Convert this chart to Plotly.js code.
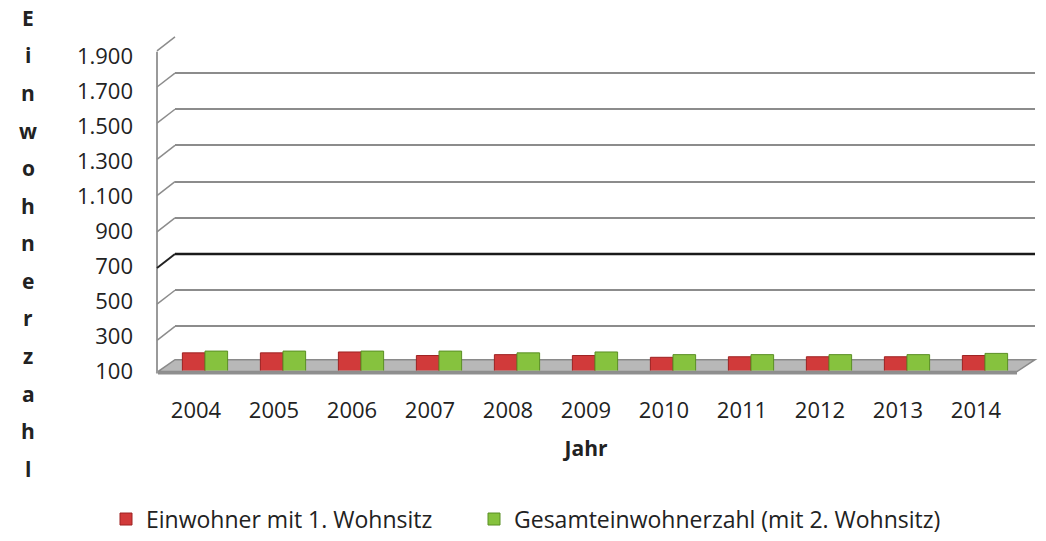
<!DOCTYPE html>
<html>
<head>
<meta charset="utf-8">
<script src="https://cdn.plot.ly/plotly-3.0.1.min.js"></script>
<style>html,body{margin:0;padding:0;background:#fff;}#chart{width:1046px;height:541px;}</style>
</head>
<body>
<div id="chart"></div>
<script>
// ---- data ----
const years = ['2004','2005','2006','2007','2008','2009','2010','2011','2012','2013','2014'];
const einwohner1 = [200, 200, 205, 185, 190, 185, 175, 178, 178, 178, 185];
const gesamt     = [210, 210, 210, 210, 200, 205, 190, 190, 190, 190, 197];
const yTicks     = [100, 300, 500, 700, 900, 1100, 1300, 1500, 1700, 1900];
const yTickText  = ['100','300','500','700','900','1.100','1.300','1.500','1.700','1.900'];
const seriesNames = ['Einwohner mit 1. Wohnsitz', 'Gesamteinwohnerzahl (mit 2. Wohnsitz)'];
const yTitle = 'Einwohnerzahl';
const xTitle = 'Jahr';

// ---- geometry helpers (pixels -> paper) ----
const W = 1046, H = 541;
const fx = p => p / W;
const fy = p => 1 - p / H;
const FONT = 'Open Sans, Noto Sans, sans-serif';

// back wall mapping (for wall edge connectors)
const backTop = 37, backBottom = 364;
const backY = v => backBottom - (v - 100) / 1800 * (backBottom - backTop);

const traces = [
  { type: 'bar', name: seriesNames[0], x: years, y: einwohner1, xaxis: 'x', yaxis: 'y', legend: 'legend',
    marker: { color: '#d13a3a', line: { color: '#9e2222', width: 1 } },
    hovertemplate: '%{x}: %{y}<extra></extra>' },
  { type: 'bar', name: seriesNames[1], x: years, y: gesamt, xaxis: 'x', yaxis: 'y', legend: 'legend2',
    marker: { color: '#86c23e', line: { color: '#5a8f24', width: 1 } },
    hovertemplate: '%{x}: %{y}<extra></extra>' },
  // carriers for the label axes and the back-wall grid (invisible)
  { type: 'scatter', mode: 'markers', x: years, y: einwohner1, xaxis: 'x2', yaxis: 'y2',
    marker: { opacity: 0 }, showlegend: false, hoverinfo: 'skip' },
  { type: 'scatter', mode: 'markers', x: years, y: gesamt, xaxis: 'x3', yaxis: 'y3',
    marker: { opacity: 0 }, showlegend: false, hoverinfo: 'skip' }
];

const shapes = [];
// floor
shapes.push({ type: 'path', xref: 'paper', yref: 'paper', layer: 'below',
  path: `M${fx(158)},${fy(373)} L${fx(1017)},${fy(373)} L${fx(1035)},${fy(361)} L${fx(175)},${fy(361)} Z`,
  fillcolor: '#b8b8b8', line: { color: '#8a8a8a', width: 1.5 } });
shapes.push({ type: 'rect', xref: 'paper', yref: 'paper', layer: 'below',
  x0: fx(158), x1: fx(1017), y0: fy(376), y1: fy(373),
  fillcolor: '#8f8f8f', line: { width: 0 } });
// left wall edge
shapes.push({ type: 'line', xref: 'paper', yref: 'paper', layer: 'below',
  x0: fx(157), x1: fx(157), y0: fy(52), y1: fy(375),
  line: { color: '#9a9a9a', width: 2 } });
// wall connectors for every grid line
yTicks.slice(1).forEach(v => {
  const by = backY(v);
  const dark = v === 700;
  shapes.push({ type: 'line', xref: 'paper', yref: 'paper', layer: 'above',
    x0: fx(157), y0: fy(Math.min(by + 14, 373)), x1: fx(175), y1: fy(by),
    line: { color: dark ? '#222' : '#8c8c8c', width: dark ? 2 : 1.5 } });
});
// highlighted 700 line on back wall
shapes.push({ type: 'line', xref: 'paper', yref: 'y3', layer: 'above',
  x0: fx(175), x1: fx(1035), y0: 700, y1: 700,
  line: { color: '#1a1a1a', width: 2.5 } });

// stacked vertical y-title letters
const annotations = yTitle.split('').map((ch, i) => ({
  text: '<b>' + ch + '</b>', xref: 'paper', yref: 'paper',
  x: fx(28), y: fy(18 + i * 37.7), xanchor: 'center', yanchor: 'middle',
  showarrow: false, font: { family: FONT, size: 21, color: '#222' }
}));

const legendFont = { family: FONT, size: 23, color: '#222' };

const layout = {
  width: W, height: H,
  margin: { l: 0, r: 0, t: 0, b: 0 },
  paper_bgcolor: '#ffffff', plot_bgcolor: 'rgba(0,0,0,0)',
  font: { family: FONT, color: '#222' },
  barmode: 'group', bargap: 0.42, bargroupgap: 0,
  showlegend: true,
  legend: { orientation: 'h', x: fx(106), xanchor: 'left', y: fy(521), yanchor: 'middle',
    font: legendFont, bgcolor: 'rgba(0,0,0,0)' },
  legend2: { orientation: 'h', x: fx(474), xanchor: 'left', y: fy(521), yanchor: 'middle',
    font: legendFont, bgcolor: 'rgba(0,0,0,0)' },
  // bars (mid-depth)
  xaxis: { domain: [fx(166), fx(1024)], type: 'category', anchor: 'y',
    showticklabels: false, showgrid: false, zeroline: false, showline: false, ticks: '', fixedrange: true },
  yaxis: { domain: [fy(372), fy(51)], range: [100, 1900], anchor: 'x',
    showticklabels: false, showgrid: false, zeroline: false, showline: false, ticks: '', fixedrange: true },
  // front labels
  xaxis2: { domain: [fx(157), fx(1015)], type: 'category', range: [-0.5, 10.5], anchor: 'free', position: fy(396),
    showgrid: false, zeroline: false, showline: false, ticks: '',
    tickfont: { family: FONT, size: 22, color: '#222' },
    title: { text: '<b>' + xTitle + '</b>', font: { family: FONT, size: 21, color: '#222' }, standoff: 18 },
    fixedrange: true },
  yaxis2: { domain: [fy(373), fy(57)], range: [100, 1900], anchor: 'free', position: fx(133), side: 'left',
    tickvals: yTicks, ticktext: yTickText, showgrid: false, zeroline: false, showline: false, ticks: '',
    tickfont: { family: FONT, size: 22, color: '#222' }, fixedrange: true },
  // back wall grid
  xaxis3: { domain: [fx(175), fx(1035)], type: 'category', anchor: 'y3', range: [-0.5, 10.5],
    showticklabels: false, showgrid: false, zeroline: false, showline: false, ticks: '', fixedrange: true },
  yaxis3: { domain: [fy(backBottom), fy(backTop)], range: [100, 1900], anchor: 'x3',
    tickvals: yTicks.slice(1), showticklabels: false, showgrid: true, gridcolor: '#8c8c8c', gridwidth: 2,
    zeroline: false, showline: false, ticks: '', fixedrange: true },
  shapes: shapes,
  annotations: annotations
};

Plotly.newPlot('chart', traces, layout, { displayModeBar: false, staticPlot: true });
</script>
</body>
</html>
